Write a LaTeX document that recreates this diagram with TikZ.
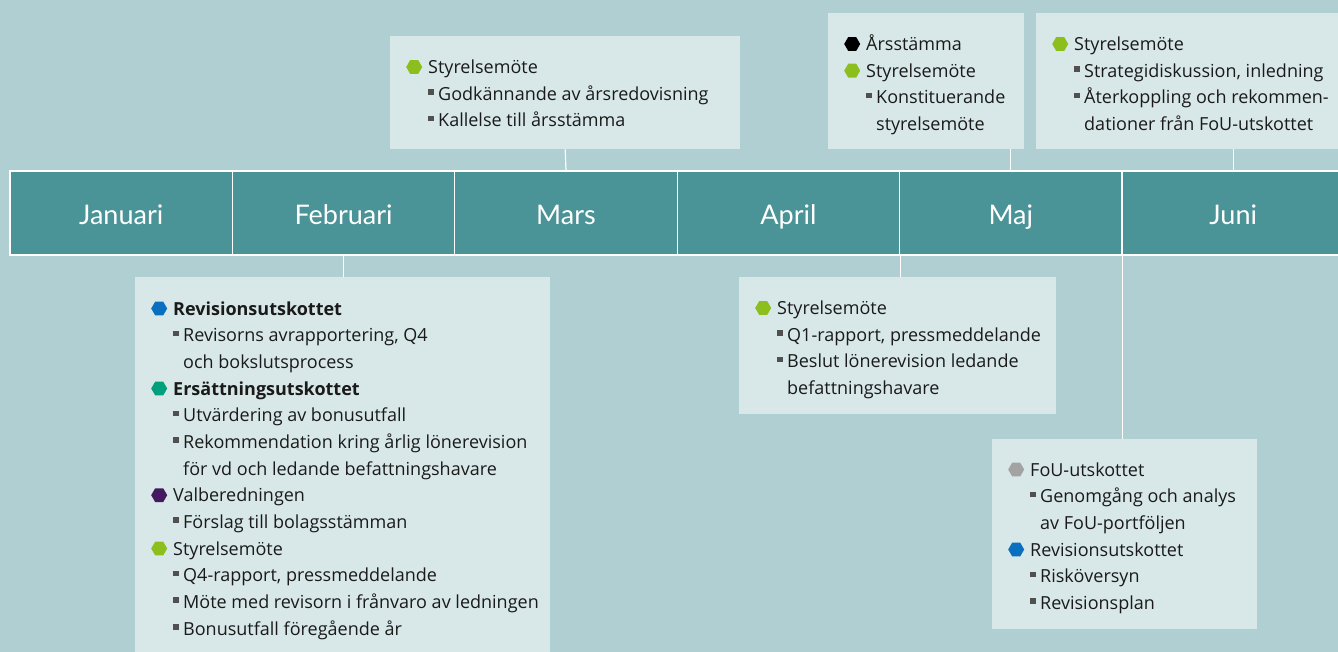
\documentclass[tikz,border=0pt]{standalone}
\usepackage{fontspec}
\setmainfont{Open Sans}
\newfontfamily\monthfont{Lato}
\usetikzlibrary{positioning,calc}

\definecolor{bgteal}{HTML}{B0CFD2}
\definecolor{barteal}{HTML}{4A9397}
\definecolor{boxfill}{HTML}{D8E8E8}
\definecolor{txtdark}{HTML}{1A1A1A}
\definecolor{sqgrey}{HTML}{505050}
\definecolor{hxgreen}{HTML}{8CBE1E}
\definecolor{hxblue}{HTML}{0A6FBF}
\definecolor{hxteal}{HTML}{00A07C}
\definecolor{hxpurple}{HTML}{44195F}
\definecolor{hxgrey}{HTML}{A3A3A3}

\newcommand\hexdot[1]{\tikz[baseline={(0pt,-6.5pt)}]\fill[#1] (0:8pt) -- (60:8pt) -- (120:8pt) -- (180:8pt) -- (240:8pt) -- (300:8pt) -- cycle;}
\newcommand\evhead[2]{\makebox[38pt][l]{\hspace*{16pt}\hexdot{#1}}#2}
\newcommand\evitem[1]{\hspace*{38pt}\makebox[10pt][l]{\textcolor{sqgrey}{\rule[5.5pt]{5.5pt}{5.5pt}}}#1}
\newcommand\evcont[1]{\hspace*{48pt}#1}
\newcommand\evlines[1]{\parbox[t]{420pt}{\fontsize{18}{26.67}\selectfont#1}}

\begin{document}
\begin{tikzpicture}[
            x=1pt, y=-1pt,
            monthcell/.style={draw=white, line width=1.2pt, fill=barteal, minimum width=222.4pt,
                minimum height=84pt, inner sep=0pt, text height=24pt, text depth=0pt,
                text=white, font=\monthfont\fontsize{27}{30}\selectfont},
            evbox/.style={fill=boxfill, anchor=north west, inner sep=0pt},
            evtext/.style={anchor=base west, inner sep=0pt, text=txtdark},
            conn/.style={draw=white, line width=1.2pt}
        ]
        \useasboundingbox (0,0) rectangle (1338,652);
        \fill[bgteal] (0,0) rectangle (1338,652);
        % timeline
        \foreach \mname [count=\i] in {Januari,Februari,Mars,April,Maj,Juni}
            \node[monthcell] (m\i) at ({10+222.4*(\i-0.5)},213) {\mname};
        % boxes above
        \node[evbox, minimum width=350pt, minimum height=113pt] (marsbox) at (390,36) {};
        \node[evbox, minimum width=196pt, minimum height=136pt] (majbox) at (828,13) {};
        \node[evbox, minimum width=320pt, minimum height=136pt] (junibox) at (1036,13) {};
        % boxes below
        \node[evbox, minimum width=415pt, minimum height=390pt] (febbox) at (135,277) {};
        \node[evbox, minimum width=317pt, minimum height=137pt] (aprbox) at (739,277) {};
        \node[evbox, minimum width=265pt, minimum height=190pt] (foubox) at (992,439) {};
        % connectors
        \draw[conn] (m3.north) -- (marsbox.south);
        \draw[conn] (m5.north) -- (m5.north |- majbox.south);
        \draw[conn] (m6.north) -- (m6.north |- junibox.south);
        \draw[conn] (m2.south) -- (m2.south |- febbox.north);
        \draw[conn] (m4.south east) -- (m4.south east |- aprbox.north);
        \draw[conn] (m5.south east) -- (m5.south east |- foubox.north);
        % texts
        \node[evtext] (marstext) at ($(marsbox.north west)+(0,37.5)$) {\evlines{%
            \evhead{hxgreen}{Styrelsemöte}\\
            \evitem{Godkännande av årsredovisning}\\
            \evitem{Kallelse till årsstämma}}};
        \node[evtext] (majtext) at ($(majbox.north west)+(0,37.5)$) {\evlines{%
            \evhead{black}{Årsstämma}\\
            \evhead{hxgreen}{Styrelsemöte}\\
            \evitem{Konstituerande}\\
            \evcont{styrelsemöte}}};
        \node[evtext] (junitext) at ($(junibox.north west)+(0,37.5)$) {\evlines{%
            \evhead{hxgreen}{Styrelsemöte}\\
            \evitem{Strategidiskussion, inledning}\\
            \evitem{Återkoppling och rekommen-}\\
            \evcont{dationer från FoU-utskottet}}};
        \node[evtext] (febtext) at ($(febbox.north west)+(0,38)$) {\evlines{%
            \evhead{hxblue}{\textbf{Revisionsutskottet}}\\
            \evitem{Revisorns avrapportering, Q4}\\
            \evcont{och bokslutsprocess}\\
            \evhead{hxteal}{\textbf{Ersättningsutskottet}}\\
            \evitem{Utvärdering av bonusutfall}\\
            \evitem{Rekommendation kring årlig lönerevision}\\
            \evcont{för vd och ledande befattningshavare}\\
            \evhead{hxpurple}{Valberedningen}\\
            \evitem{Förslag till bolagsstämman}\\
            \evhead{hxgreen}{Styrelsemöte}\\
            \evitem{Q4-rapport, pressmeddelande}\\
            \evitem{Möte med revisorn i frånvaro av ledningen}\\
            \evitem{Bonusutfall föregående år}}};
        \node[evtext] (aprtext) at ($(aprbox.north west)+(0,37.5)$) {\evlines{%
            \evhead{hxgreen}{Styrelsemöte}\\
            \evitem{Q1-rapport, pressmeddelande}\\
            \evitem{Beslut lönerevision ledande}\\
            \evcont{befattningshavare}}};
        \node[evtext] (foutext) at ($(foubox.north west)+(0,37)$) {\evlines{%
            \evhead{hxgrey}{FoU-utskottet}\\
            \evitem{Genomgång och analys}\\
            \evcont{av FoU-portföljen}\\
            \evhead{hxblue}{Revisionsutskottet}\\
            \evitem{Risköversyn}\\
            \evitem{Revisionsplan}}};
\end{tikzpicture}
\end{document}
